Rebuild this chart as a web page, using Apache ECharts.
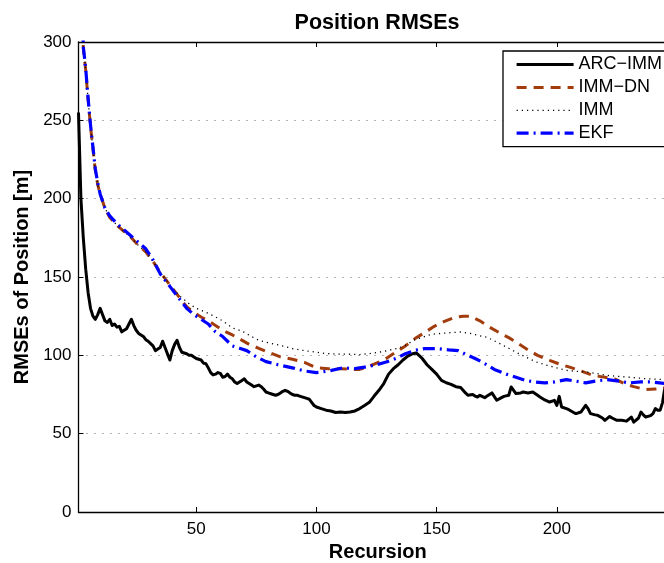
<!DOCTYPE html>
<html>
<head>
<meta charset="utf-8">
<title>Position RMSEs</title>
<script src="https://cdn.jsdelivr.net/npm/echarts@6/dist/echarts.min.js"></script>
<style>
  html, body { margin: 0; padding: 0; background: #fff; }
  #chart { width: 664px; height: 563px; }
</style>
</head>
<body>
<div id="chart"></div>
<script>
// Position RMSE per recursion step, [recursion, RMSE in metres]
const arcImm = [
  [1,255],[2,200],[3,175],[4,155],[5,140],[6,130],[7,125],[8,123],[9,126],[10,130],
  [11,126],[12,122],[13,121],[14,123],[15,119],[16,120],[17,118],[18,118.5],[19,115],[20,116],
  [21,117],[22,120],[23,123],[24,119],[25,116],[26,114],[27,113],[28,112],[29,110],[30,109],
  [31,107.5],[32,106],[33,103],[34,104],[35,105],[36,109],[37,105],[38,101],[39,97],[40,103],
  [41,107],[42,109.6],[43,105],[44,102],[45,101.5],[46,101],[47,100],[48,100],[49,99],[50,98],
  [51,97.5],[52,97],[53,95],[54,94.7],[55,92],[56,89],[57,87.5],[58,88],[59,89],[60,88.5],
  [61,86],[62,86.5],[63,88],[64,86],[65,85],[66,83],[67,82],[68,83],[69,84],[70,85],
  [71,83],[72,82],[73,81],[74,80],[75,80.5],[76,81],[77,80],[78,78.5],[79,76.6],[80,76],
  [81,75.5],[82,75],[83,74.5],[84,75],[85,76],[86,77],[87,77.7],[88,77],[89,76],[90,75],
  [91,74.5],[92,74.5],[93,74],[94,73.5],[95,73],[96,72.5],[97,72],[98,70],[99,68],[100,67],
  [102,66],[104,65],[106,64.5],[108,63.5],[110,63.8],[112,63.5],[114,63.8],[116,64.5],[118,66],[120,68],
  [122,70],[124,74],[126,77.7],[128,82],[130,88],[132,91.5],[134,94],[136,97],[138,99.5],[140,101],
  [141.5,101.5],[143,99.5],[144,98],[146,94],[148,91],[150,88],[152,84],[154,82.5],[156,81.5],[158,80],
  [160,79.5],[162,76],[163,74.5],[165,75],[166,74],[167,73.4],[168,74.5],[170,73],[171,74],[173,76],
  [175,71.3],[177,73],[178,73.8],[180,74.5],[181,79.8],[183,75.6],[185,76],[186,76.6],[188,76],[190,76.6],
  [192,74.5],[193,73.4],[195,71.5],[197,70.2],[199,71.3],[200,68],[201,73.8],[202,67],[204,66],[205,65.3],
  [207,63.5],[208,62.8],[210,63.8],[212,68.1],[213,66],[214,62.8],[216,62],[217,61.7],[219,60],[220,58.5],
  [222,61],[223,60],[225,58.5],[227,58.5],[229,58],[231,60.6],[232,57.4],[234,60],[235,63.8],[236,62],
  [237,60.6],[239,61.5],[240,62.8],[241,66],[242,65],[243,65],[244,70],[245,80]
];

const immDn = [
  [1,450],[2,360],[3,296],[4,282],[5,263],[6,246],[7,232],[8,218],[9,209],[10,203],
  [12,194],[14,188],[17,183],[20,179],[23,175],[26,170],[29,166],[32,160],[35,153],[39,145],
  [43,137],[46,131],[49,127.5],[52,124.5],[55,122],[58,119],[61,116],[65,113],[68,110.5],[72,107],
  [76,104.5],[80,102],[85,99],[90,97.5],[95,95.5],[100,92],[105,91.5],[110,91.5],[115,91],[118,91],
  [121,92.5],[125,95],[129,98],[133,102],[137,106],[141,110.7],[145,114.5],[149,118.5],[153,121.5],[157,124],
  [161,125],[164,125],[168,122],[172,118],[176,114.5],[180,111.3],[184,107.5],[188,103.5],[192,100],[197,96.8],
  [201,94.5],[205,92.6],[210,90],[215,87.2],[220,86],[224,85],[228,82],[232,80],[237,78.1],[241,78.5],
  [245,79]
];

const imm = [
  [1,450],[2,360],[3,297],[4,282],[5,263],[6,246],[7,232],[8,218],[9,209],[10,202],
  [12,194],[14,188],[17,183],[20,179],[23,175],[26,170],[29,166],[32,160],[35,153],[39,145],
  [43,138],[47,133],[50,130],[54,127.5],[58,124.5],[61,122],[65,117.5],[69,115.5],[73,112],[76,109.6],
  [80,108],[85,106.4],[90,104.3],[95,103],[100,102],[104,101.1],[109,100.8],[114,100.7],[118,100.5],[122,101.1],
  [126,102],[130,103.2],[134,104.5],[137,106.4],[141,110],[144,111.5],[148,113.5],[152,114],[156,114.5],[160,114.9],
  [164,114],[168,112.5],[171,111.5],[175,108.5],[179,105.3],[183,102],[187,99],[191,96],[196,93.6],[200,92],
  [204,90.4],[208,89.8],[212,89.4],[216,88.5],[221,87.2],[225,86.6],[229,86.2],[233,85.6],[237,85.1],[241,84.8],
  [245,84.5]
];

const ekf = [
  [1,450],[2,360],[3,297],[4,283],[5,264],[6,247],[7,233],[8,219],[9,210],[10,203],
  [12,194],[14,189],[17,184],[20,180],[23,176],[26,172],[29,168],[32,161],[35,152],[39,144],
  [43,136],[46,130],[49,126],[52,123],[55,120],[58,115],[61,112],[65,106],[68,104.5],[71,103],
  [75,99],[79,96],[84,94],[90,92],[95,90],[100,89],[105,90],[111,92],[116,91.5],[120,92.5],
  [125,94],[129,95.7],[133,98],[137,101],[141,103.2],[145,104.3],[150,104.3],[155,103.5],[159,103],[163,100],
  [166,98],[169,95.7],[174,91],[179,88],[183,86],[187,84],[191,83],[195,82.4],[199,83],[204,84.5],
  [208,83.5],[212,82.4],[216,83.5],[221,84.5],[226,83.5],[230,82.4],[235,83],[239,83],[245,82]
];

const seriesNames = ['ARC\u2212IMM', 'IMM\u2212DN', 'IMM', 'EKF'];
const xTicks = [50, 100, 150, 200];

const font = '"Liberation Sans", Arial, Helvetica, sans-serif';

const chart = echarts.init(document.getElementById('chart'), null, { renderer: 'canvas' });

function lineSeries(name, data, color, width, type) {
  return {
    name: name,
    type: 'line',
    data: data,
    showSymbol: false,
    symbol: 'none',
    clip: true,
    animation: false,
    lineStyle: { color: color, width: width, type: type, join: 'round', cap: 'butt' },
    itemStyle: { color: color }
  };
}

chart.setOption({
  backgroundColor: '#ffffff',
  animation: false,
  textStyle: { fontFamily: font },
  title: {
    text: 'Position RMSEs',
    left: 372,
    top: 7,
    textAlign: 'center',
    textStyle: { fontFamily: font, fontWeight: 'bold', fontSize: 21.5, color: '#000' }
  },
  grid: { left: 78.5, right: -13, top: 42, bottom: 51, containLabel: false, outerBoundsMode: 'none' },
  legend: {
    left: 503,
    top: 51,
    orient: 'vertical',
    itemWidth: 57,
    itemHeight: 14,
    itemGap: 4.9,
    padding: [4.5, 20, 4.5, 12],
    backgroundColor: '#fff',
    borderColor: '#000',
    borderWidth: 1.3,
    borderRadius: 0,
    itemStyle: { opacity: 0 },
    lineStyle: { width: 'inherit' },
    textStyle: { fontFamily: font, fontSize: 18, color: '#000' },
    data: seriesNames
  },
  xAxis: [
    {
      type: 'value',
      min: 1,
      max: 250,
      name: 'Recursion',
      nameLocation: 'middle',
      nameGap: 27,
      nameTextStyle: { fontFamily: font, fontWeight: 'bold', fontSize: 20, color: '#000' },
      axisLine: { show: true, onZero: false, lineStyle: { color: '#000', width: 1.3 } },
      axisTick: { show: true, inside: true, length: 5, customValues: xTicks, lineStyle: { color: '#000', width: 1 } },
      axisLabel: { show: true, customValues: xTicks, margin: 9, fontFamily: font, fontSize: 17, color: '#000' },
      splitLine: { show: false }
    },
    {
      type: 'value',
      position: 'top',
      min: 1,
      max: 250,
      axisLine: { show: true, onZero: false, lineStyle: { color: '#000', width: 1.3 } },
      axisTick: { show: true, inside: true, length: 5, customValues: xTicks, lineStyle: { color: '#000', width: 1 } },
      axisLabel: { show: false },
      splitLine: { show: false }
    }
  ],
  yAxis: {
    type: 'value',
    min: 0,
    max: 300,
    interval: 50,
    name: 'RMSEs of Position [m]',
    nameLocation: 'middle',
    nameGap: 41,
    nameTextStyle: { fontFamily: font, fontWeight: 'bold', fontSize: 20, color: '#000' },
    axisLine: { show: true, onZero: false, lineStyle: { color: '#000', width: 1.3 } },
    axisTick: { show: true, inside: true, length: 5, lineStyle: { color: '#000', width: 1 } },
    axisLabel: { margin: 7, fontFamily: font, fontSize: 17, color: '#000' },
    splitLine: { show: true, lineStyle: { color: '#666', width: 1, type: [1, 7] } }
  },
  series: [
    lineSeries(seriesNames[0], arcImm, '#000000', 3, 'solid'),
    lineSeries(seriesNames[1], immDn, '#a33c0c', 3, [10, 7]),
    lineSeries(seriesNames[2], imm, '#000000', 1.3, [1.2, 4]),
    lineSeries(seriesNames[3], ekf, '#0000ff', 3.2, [12, 5, 2, 5])
  ]
});
</script>
</body>
</html>
